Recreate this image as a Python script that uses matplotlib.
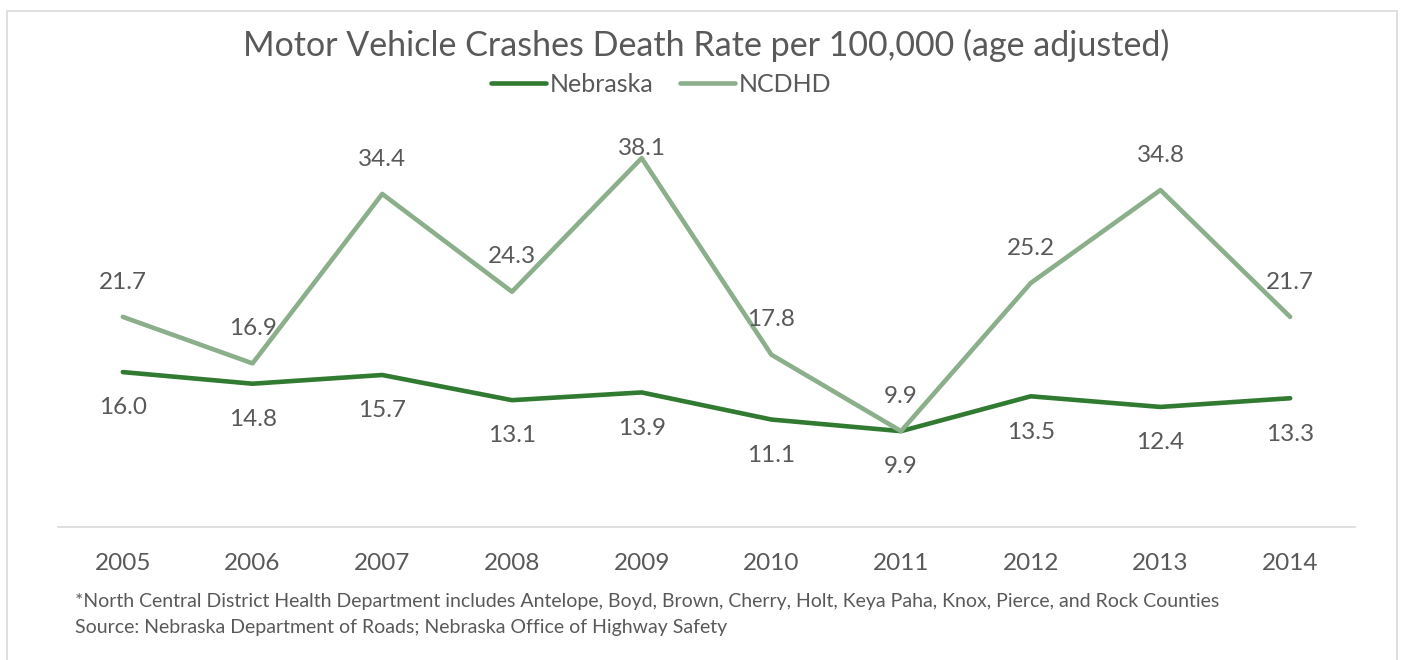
import matplotlib
matplotlib.use('Agg')
import matplotlib.pyplot as plt
from matplotlib.patches import Rectangle

years = ['2005', '2006', '2007', '2008', '2009', '2010', '2011', '2012', '2013', '2014']
nebraska = [16.0, 14.8, 15.7, 13.1, 13.9, 11.1, 9.9, 13.5, 12.4, 13.3]
ncdhd = [21.7, 16.9, 34.4, 24.3, 38.1, 17.8, 9.9, 25.2, 34.8, 21.7]

NEB_COLOR = '#317A31'
NCD_COLOR = '#8BAF8B'
TEXT = '#595959'
FONT = 'Lato'

plt.rcParams['font.family'] = [FONT, 'DejaVu Sans']

W, H = 1408, 660
fig = plt.figure(figsize=(W / 100, H / 100), dpi=100, facecolor='white')

# outer chart frame
fig.add_artist(Rectangle((7 / W, -0.05), 1390 / W, 1.05 - 11 / H, transform=fig.transFigure,
                         fill=False, edgecolor='#D9D9D9', linewidth=1.2))

ax = fig.add_axes([58 / W, 1 - 527 / H, 1297 / W, 426 / H])
x = list(range(len(years)))
ax.plot(x, nebraska, color=NEB_COLOR, linewidth=3.3, solid_capstyle='round', label='Nebraska')
ax.plot(x, ncdhd, color=NCD_COLOR, linewidth=3.3, solid_capstyle='round', label='NCDHD')

ax.set_xlim(-0.5, len(years) - 0.5)
ax.set_ylim(0, 44)

# value labels: NCDHD above, Nebraska below, kept inside the plot area
for i, v in enumerate(ncdhd):
    ax.text(i, min(v + 3.6, 39.1), f'{v:.1f}', ha='center', va='center',
            fontsize=17.5, color=TEXT)
for i, v in enumerate(nebraska):
    ax.text(i, v - 3.7, f'{v:.1f}', ha='center', va='center',
            fontsize=17.5, color=TEXT)

ax.set_xticks(x)
ax.set_xticklabels(years, fontsize=17.5, color=TEXT)
ax.tick_params(axis='x', length=0, pad=19)
ax.set_yticks([])
for side in ['top', 'right', 'left']:
    ax.spines[side].set_visible(False)
ax.spines['bottom'].set_color('#D9D9D9')
ax.spines['bottom'].set_linewidth(1.2)

fig.text(706 / W, 1 - 45 / H, 'Motor Vehicle Crashes Death Rate per 100,000 (age adjusted)',
         ha='center', va='center', fontsize=24.5, color=TEXT)

leg = fig.legend(loc='center', bbox_to_anchor=(661 / W, 1 - 84 / H), ncol=2, frameon=False,
                 fontsize=18, handlelength=2.2, handletextpad=0.15, columnspacing=1.05,
                 labelcolor=TEXT)

fig.text(75 / W, 1 - 601 / H,
         '*North Central District Health Department includes Antelope, Boyd, Brown, Cherry, Holt, '
         'Keya Paha, Knox, Pierce, and Rock Counties',
         ha='left', va='center', fontsize=14, color=TEXT)
fig.text(75 / W, 1 - 627 / H,
         'Source: Nebraska Department of Roads; Nebraska Office of Highway Safety',
         ha='left', va='center', fontsize=14, color=TEXT)

fig.savefig('out.png', dpi=100, facecolor='white')
